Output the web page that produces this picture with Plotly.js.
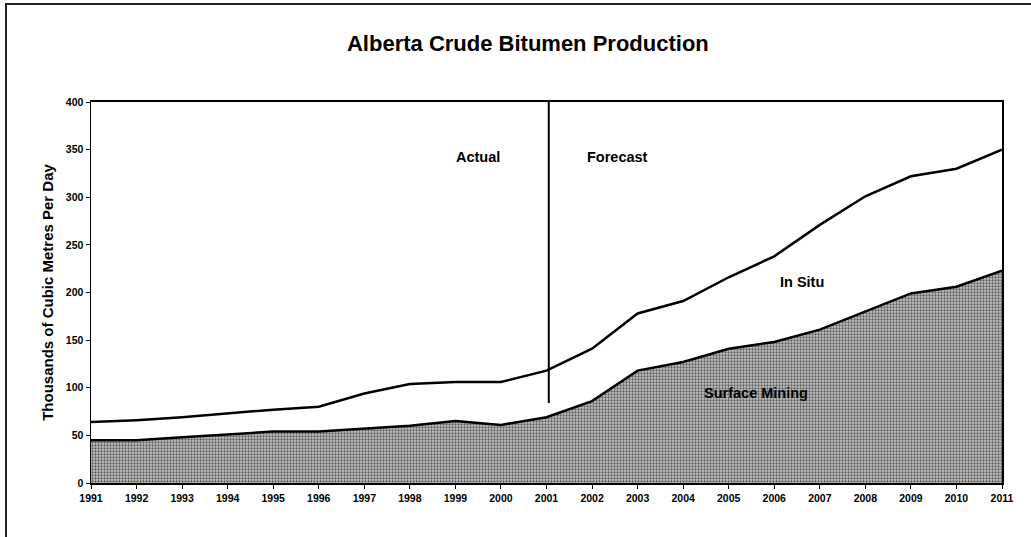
<!DOCTYPE html>
<html>
<head>
<meta charset="utf-8">
<script src="https://cdn.plot.ly/plotly-3.0.1.min.js"></script>
<style>
  html, body { margin: 0; padding: 0; background: #fff; }
  #wrap { position: relative; width: 1031px; height: 537px; overflow: hidden; }
  #chart { position: absolute; left: 0; top: 0; width: 1031px; height: 537px; }
  #frame { position: absolute; left: 5px; top: 3px; width: 1040px; height: 560px;
           border-left: 2px solid #222; border-top: 2px solid #222; pointer-events: none; }
</style>
</head>
<body>
<div id="wrap">
  <div id="chart"></div>
  <div id="frame"></div>
</div>
<script>
const years = [1991,1992,1993,1994,1995,1996,1997,1998,1999,2000,2001,2002,2003,2004,2005,2006,2007,2008,2009,2010,2011];
const surfaceMining = [45,45,48,51,54,54,57,60,65,61,69,86,118,127,141,148,161,180,199,206,223];
const totalProduction = [64,66,69,73,77,80,94,104,106,106,118,141,178,191,216,238,271,301,322,330,350];
const yTicks = [0,50,100,150,200,250,300,350,400];
const dividerYear = 2001.05;
const dividerRange = [84, 410];
const regionLabels = ["Actual", "Forecast", "In Situ", "Surface Mining"];
const regionX = [1999.5, 2002.55, 2006.6, 2005.6];
const regionY = [342, 342, 211, 95];

const lab = { family: "Liberation Sans, Arial, sans-serif", color: "#000" };

const traces = [
  {
    x: years, y: surfaceMining, type: "scatter", mode: "lines",
    name: "Surface Mining",
    fill: "tozeroy",
    fillcolor: "#a8a8a8",
    fillpattern: { shape: ".", fgcolor: "#5c5c5c", bgcolor: "#c6c6c6", size: 3, solidity: 0.45 },
    line: { color: "#000", width: 2.5 },
    hoverinfo: "skip"
  },
  {
    x: years, y: totalProduction, type: "scatter", mode: "lines",
    name: "In Situ",
    fill: "tonexty",
    fillcolor: "rgba(255,255,255,0)",
    line: { color: "#000", width: 2.5 },
    hoverinfo: "skip"
  }
];

const annotations = regionLabels.map((t, i) => ({
  x: regionX[i], y: regionY[i], xref: "x", yref: "y",
  text: "<b>" + t + "</b>", showarrow: false,
  font: Object.assign({ size: 14.5 }, lab),
  xanchor: "center", yanchor: "middle"
}));

const layout = {
  width: 1031, height: 537,
  margin: { l: 91, r: 29, t: 102, b: 54 },
  paper_bgcolor: "rgba(0,0,0,0)",
  plot_bgcolor: "#fff",
  showlegend: false,
  title: {
    text: "<b>Alberta Crude Bitumen Production</b>",
    font: Object.assign({ size: 22 }, lab),
    xref: "container", x: 0.512, xanchor: "center",
    yref: "container", y: 0.92, yanchor: "middle"
  },
  xaxis: {
    range: [years[0], years[years.length - 1]],
    tickvals: years, ticktext: years.map(String),
    showgrid: false, zeroline: false,
    showline: true, linecolor: "#000", linewidth: 2, mirror: true,
    ticks: "outside", ticklen: 4, tickcolor: "#000",
    tickfont: Object.assign({ size: 10.5, weight: "bold" }, lab),
    fixedrange: true
  },
  yaxis: {
    range: [0, 400],
    tickvals: yTicks,
    showgrid: false, zeroline: false,
    showline: true, linecolor: "#000", linewidth: 1.5, mirror: true,
    ticks: "outside", ticklen: 4, tickcolor: "#000",
    tickfont: Object.assign({ size: 10.5, weight: "bold" }, lab),
    title: {
      text: "<b>Thousands of Cubic Metres Per Day</b>",
      font: Object.assign({ size: 15 }, lab),
      standoff: 8
    },
    fixedrange: true
  },
  shapes: [
    { type: "line", xref: "x", yref: "y", x0: dividerYear, x1: dividerYear,
      y0: dividerRange[0], y1: dividerRange[1], line: { color: "#000", width: 2 } }
  ],
  annotations: annotations
};

Plotly.newPlot("chart", traces, layout, { staticPlot: true, displayModeBar: false });
</script>
</body>
</html>
